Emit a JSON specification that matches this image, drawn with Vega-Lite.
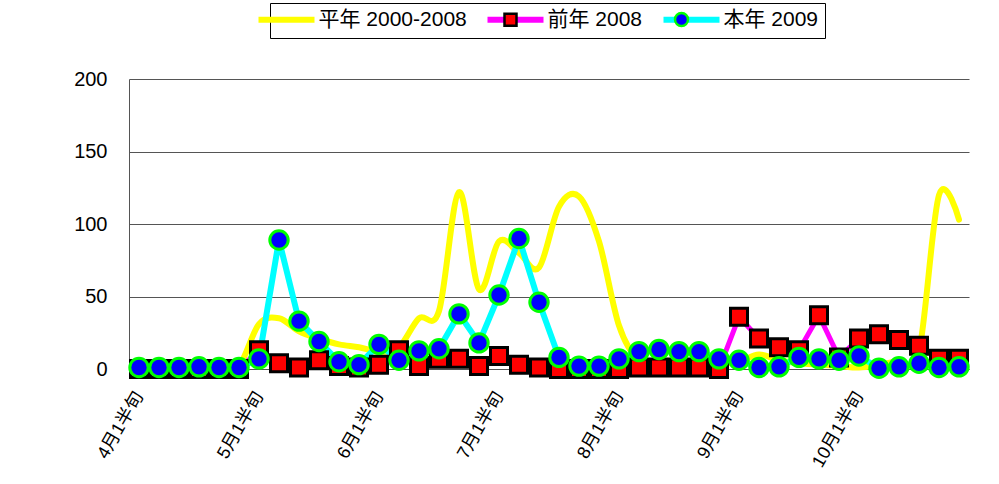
{
  "$schema": "https://vega.github.io/schema/vega-lite/v6.json",
  "width": 840,
  "height": 290,
  "autosize": {"type": "none"},
  "padding": {"left": 129, "top": 79, "right": 30, "bottom": 115},
  "background": "white",
  "config": {
    "view": {"stroke": null},
    "font": "Liberation Sans"
  },
  "data": {
    "values": [
      {"period": "4月1半旬", "series": "平年 2000-2008", "value": 0},
      {"period": "4月2半旬", "series": "平年 2000-2008", "value": 0},
      {"period": "4月3半旬", "series": "平年 2000-2008", "value": 0},
      {"period": "4月4半旬", "series": "平年 2000-2008", "value": 0},
      {"period": "4月5半旬", "series": "平年 2000-2008", "value": 0},
      {"period": "4月6半旬", "series": "平年 2000-2008", "value": 2},
      {"period": "5月1半旬", "series": "平年 2000-2008", "value": 31},
      {"period": "5月2半旬", "series": "平年 2000-2008", "value": 35},
      {"period": "5月3半旬", "series": "平年 2000-2008", "value": 26},
      {"period": "5月4半旬", "series": "平年 2000-2008", "value": 21},
      {"period": "5月5半旬", "series": "平年 2000-2008", "value": 17},
      {"period": "5月6半旬", "series": "平年 2000-2008", "value": 15},
      {"period": "6月1半旬", "series": "平年 2000-2008", "value": 12},
      {"period": "6月2半旬", "series": "平年 2000-2008", "value": 15},
      {"period": "6月3半旬", "series": "平年 2000-2008", "value": 35},
      {"period": "6月4半旬", "series": "平年 2000-2008", "value": 40},
      {"period": "6月5半旬", "series": "平年 2000-2008", "value": 122},
      {"period": "6月6半旬", "series": "平年 2000-2008", "value": 55},
      {"period": "7月1半旬", "series": "平年 2000-2008", "value": 88},
      {"period": "7月2半旬", "series": "平年 2000-2008", "value": 80},
      {"period": "7月3半旬", "series": "平年 2000-2008", "value": 70},
      {"period": "7月4半旬", "series": "平年 2000-2008", "value": 112},
      {"period": "7月5半旬", "series": "平年 2000-2008", "value": 119},
      {"period": "7月6半旬", "series": "平年 2000-2008", "value": 88},
      {"period": "8月1半旬", "series": "平年 2000-2008", "value": 30},
      {"period": "8月2半旬", "series": "平年 2000-2008", "value": 6},
      {"period": "8月3半旬", "series": "平年 2000-2008", "value": 6},
      {"period": "8月4半旬", "series": "平年 2000-2008", "value": 5},
      {"period": "8月5半旬", "series": "平年 2000-2008", "value": 5},
      {"period": "8月6半旬", "series": "平年 2000-2008", "value": 4},
      {"period": "9月1半旬", "series": "平年 2000-2008", "value": 5},
      {"period": "9月2半旬", "series": "平年 2000-2008", "value": 10},
      {"period": "9月3半旬", "series": "平年 2000-2008", "value": 6},
      {"period": "9月4半旬", "series": "平年 2000-2008", "value": 4},
      {"period": "9月5半旬", "series": "平年 2000-2008", "value": 3},
      {"period": "9月6半旬", "series": "平年 2000-2008", "value": 2},
      {"period": "10月1半旬", "series": "平年 2000-2008", "value": 1},
      {"period": "10月2半旬", "series": "平年 2000-2008", "value": 3},
      {"period": "10月3半旬", "series": "平年 2000-2008", "value": 6},
      {"period": "10月4半旬", "series": "平年 2000-2008", "value": 12},
      {"period": "10月5半旬", "series": "平年 2000-2008", "value": 120},
      {"period": "10月6半旬", "series": "平年 2000-2008", "value": 103},

      {"period": "4月1半旬", "series": "前年 2008", "value": 0},
      {"period": "4月2半旬", "series": "前年 2008", "value": 0},
      {"period": "4月3半旬", "series": "前年 2008", "value": 0},
      {"period": "4月4半旬", "series": "前年 2008", "value": 0},
      {"period": "4月5半旬", "series": "前年 2008", "value": 0},
      {"period": "4月6半旬", "series": "前年 2008", "value": 0},
      {"period": "5月1半旬", "series": "前年 2008", "value": 13},
      {"period": "5月2半旬", "series": "前年 2008", "value": 4},
      {"period": "5月3半旬", "series": "前年 2008", "value": 1},
      {"period": "5月4半旬", "series": "前年 2008", "value": 6},
      {"period": "5月5半旬", "series": "前年 2008", "value": 2},
      {"period": "5月6半旬", "series": "前年 2008", "value": 1},
      {"period": "6月1半旬", "series": "前年 2008", "value": 3},
      {"period": "6月2半旬", "series": "前年 2008", "value": 13},
      {"period": "6月3半旬", "series": "前年 2008", "value": 2},
      {"period": "6月4半旬", "series": "前年 2008", "value": 7},
      {"period": "6月5半旬", "series": "前年 2008", "value": 7},
      {"period": "6月6半旬", "series": "前年 2008", "value": 2},
      {"period": "7月1半旬", "series": "前年 2008", "value": 9},
      {"period": "7月2半旬", "series": "前年 2008", "value": 3},
      {"period": "7月3半旬", "series": "前年 2008", "value": 1},
      {"period": "7月4半旬", "series": "前年 2008", "value": 0},
      {"period": "7月5半旬", "series": "前年 2008", "value": 0},
      {"period": "7月6半旬", "series": "前年 2008", "value": 0},
      {"period": "8月1半旬", "series": "前年 2008", "value": 0},
      {"period": "8月2半旬", "series": "前年 2008", "value": 1},
      {"period": "8月3半旬", "series": "前年 2008", "value": 1},
      {"period": "8月4半旬", "series": "前年 2008", "value": 1},
      {"period": "8月5半旬", "series": "前年 2008", "value": 1},
      {"period": "8月6半旬", "series": "前年 2008", "value": 0},
      {"period": "9月1半旬", "series": "前年 2008", "value": 36},
      {"period": "9月2半旬", "series": "前年 2008", "value": 21},
      {"period": "9月3半旬", "series": "前年 2008", "value": 15},
      {"period": "9月4半旬", "series": "前年 2008", "value": 13},
      {"period": "9月5半旬", "series": "前年 2008", "value": 37},
      {"period": "9月6半旬", "series": "前年 2008", "value": 8},
      {"period": "10月1半旬", "series": "前年 2008", "value": 21},
      {"period": "10月2半旬", "series": "前年 2008", "value": 24},
      {"period": "10月3半旬", "series": "前年 2008", "value": 20},
      {"period": "10月4半旬", "series": "前年 2008", "value": 16},
      {"period": "10月5半旬", "series": "前年 2008", "value": 7},
      {"period": "10月6半旬", "series": "前年 2008", "value": 7},

      {"period": "4月1半旬", "series": "本年 2009", "value": 1},
      {"period": "4月2半旬", "series": "本年 2009", "value": 1},
      {"period": "4月3半旬", "series": "本年 2009", "value": 1},
      {"period": "4月4半旬", "series": "本年 2009", "value": 1.5},
      {"period": "4月5半旬", "series": "本年 2009", "value": 1},
      {"period": "4月6半旬", "series": "本年 2009", "value": 1},
      {"period": "5月1半旬", "series": "本年 2009", "value": 7},
      {"period": "5月2半旬", "series": "本年 2009", "value": 89},
      {"period": "5月3半旬", "series": "本年 2009", "value": 33},
      {"period": "5月4半旬", "series": "本年 2009", "value": 19},
      {"period": "5月5半旬", "series": "本年 2009", "value": 5},
      {"period": "5月6半旬", "series": "本年 2009", "value": 3},
      {"period": "6月1半旬", "series": "本年 2009", "value": 17},
      {"period": "6月2半旬", "series": "本年 2009", "value": 6},
      {"period": "6月3半旬", "series": "本年 2009", "value": 12.5},
      {"period": "6月4半旬", "series": "本年 2009", "value": 14},
      {"period": "6月5半旬", "series": "本年 2009", "value": 38},
      {"period": "6月6半旬", "series": "本年 2009", "value": 18},
      {"period": "7月1半旬", "series": "本年 2009", "value": 51},
      {"period": "7月2半旬", "series": "本年 2009", "value": 90},
      {"period": "7月3半旬", "series": "本年 2009", "value": 46},
      {"period": "7月4半旬", "series": "本年 2009", "value": 8},
      {"period": "7月5半旬", "series": "本年 2009", "value": 2},
      {"period": "7月6半旬", "series": "本年 2009", "value": 2},
      {"period": "8月1半旬", "series": "本年 2009", "value": 7},
      {"period": "8月2半旬", "series": "本年 2009", "value": 12},
      {"period": "8月3半旬", "series": "本年 2009", "value": 13.5},
      {"period": "8月4半旬", "series": "本年 2009", "value": 12},
      {"period": "8月5半旬", "series": "本年 2009", "value": 12},
      {"period": "8月6半旬", "series": "本年 2009", "value": 7},
      {"period": "9月1半旬", "series": "本年 2009", "value": 6},
      {"period": "9月2半旬", "series": "本年 2009", "value": 1},
      {"period": "9月3半旬", "series": "本年 2009", "value": 1.5},
      {"period": "9月4半旬", "series": "本年 2009", "value": 8},
      {"period": "9月5半旬", "series": "本年 2009", "value": 7},
      {"period": "9月6半旬", "series": "本年 2009", "value": 6},
      {"period": "10月1半旬", "series": "本年 2009", "value": 9},
      {"period": "10月2半旬", "series": "本年 2009", "value": 0.5},
      {"period": "10月3半旬", "series": "本年 2009", "value": 1.5},
      {"period": "10月4半旬", "series": "本年 2009", "value": 4},
      {"period": "10月5半旬", "series": "本年 2009", "value": 1},
      {"period": "10月6半旬", "series": "本年 2009", "value": 1.5}
    ]
  },
  "encoding": {
    "x": {
      "field": "period",
      "type": "ordinal",
      "sort": null,
      "scale": {"type": "point", "padding": 0.5},
      "axis": {
        "title": null,
        "values": ["4月1半旬", "5月1半旬", "6月1半旬", "7月1半旬", "8月1半旬", "9月1半旬", "10月1半旬"],
        "labelAngle": -60,
        "labelAlign": "right",
        "labelBaseline": "middle",
        "labelFont": "Liberation Sans, Noto Sans CJK JP",
        "labelFontSize": 18,
        "labelColor": "black",
        "labelPadding": 24,
        "labelOverlap": false,
        "labelBound": false,
        "ticks": false,
        "grid": false,
        "domain": true,
        "domainColor": "#555555",
        "domainWidth": 1
      }
    },
    "y": {
      "field": "value",
      "type": "quantitative",
      "scale": {"domain": [0, 200], "nice": false},
      "axis": {
        "title": null,
        "values": [0, 50, 100, 150, 200],
        "grid": true,
        "gridColor": "#555555",
        "gridWidth": 1,
        "gridOpacity": 1,
        "domain": true,
        "domainColor": "#555555",
        "ticks": false,
        "labelPadding": 22,
        "labelFont": "Liberation Sans",
        "labelFontSize": 20,
        "labelColor": "black"
      }
    }
  },
  "layer": [
    {
      "layer": [
        {
          "transform": [{"filter": "datum.series === '平年 2000-2008'"}],
          "mark": {"type": "line", "interpolate": "cardinal", "strokeWidth": 6, "strokeCap": "round", "strokeJoin": "round"},
          "encoding": {
            "stroke": {
              "field": "series",
              "type": "nominal",
              "scale": {"domain": ["平年 2000-2008", "前年 2008", "本年 2009"], "range": ["#ffff00", "#ff00ff", "#00ffff"]},
              "legend": {
                "title": null,
                "orient": "none",
                "legendX": 141,
                "legendY": -76,
                "direction": "horizontal",
                "symbolType": "M-4.667,0H4.667",
                "symbolSize": 144,
                "symbolStrokeWidth": 6,
                "labelOffset": 21.5,
                "columnPadding": 8,
                "padding": 6,
                "strokeColor": "black",
                "labelFont": "Liberation Sans, Noto Sans CJK JP",
                "labelFontSize": 21,
                "labelColor": "black",
                "labelLimit": 400
              }
            }
          }
        },
        {
          "transform": [{"filter": "datum.series === '前年 2008'"}],
          "mark": {"type": "line", "strokeWidth": 5, "strokeJoin": "round"},
          "encoding": {
            "stroke": {
              "field": "series",
              "type": "nominal",
              "scale": {"domain": ["平年 2000-2008", "前年 2008", "本年 2009"], "range": ["#ffff00", "#ff00ff", "#00ffff"]}
            }
          }
        },
        {
          "transform": [{"filter": "datum.series === '本年 2009'"}],
          "mark": {"type": "line", "strokeWidth": 6, "strokeJoin": "round"},
          "encoding": {
            "stroke": {
              "field": "series",
              "type": "nominal",
              "scale": {"domain": ["平年 2000-2008", "前年 2008", "本年 2009"], "range": ["#ffff00", "#ff00ff", "#00ffff"]}
            }
          }
        }
      ]
    },
    {
      "transform": [{"filter": "datum.series !== '平年 2000-2008'"}],
      "mark": {"type": "point", "filled": true, "size": 514, "strokeWidth": 3, "opacity": 1},
      "encoding": {
        "fill": {
          "field": "series",
          "type": "nominal",
          "scale": {"domain": ["平年 2000-2008", "前年 2008", "本年 2009"], "range": ["transparent", "#ff0000", "#0000ff"]},
          "legend": {
            "title": null,
            "orient": "none",
            "legendX": 141,
            "legendY": -76,
            "direction": "horizontal",
            "symbolSize": 256,
            "symbolStrokeWidth": 2.5,
            "labelOffset": 21.5,
            "columnPadding": 8,
            "padding": 6,
            "labelFont": "Liberation Sans, Noto Sans CJK JP",
            "labelFontSize": 21,
            "labelOpacity": 0,
            "labelLimit": 400
          }
        },
        "shape": {
          "field": "series",
          "type": "nominal",
          "scale": {
            "domain": ["平年 2000-2008", "前年 2008", "本年 2009"],
            "range": [
              "M-3.72,0M3.72,0",
              "M-3.72,0M3.72,0M-0.75,-0.75H0.75V0.75H-0.75Z",
              "M-3.72,0M3.72,0M-0.8125,0A0.8125,0.8125 0 1,0 0.8125,0A0.8125,0.8125 0 1,0 -0.8125,0Z"
            ]
          }
        },
        "stroke": {
          "field": "series",
          "type": "nominal",
          "scale": {"domain": ["平年 2000-2008", "前年 2008", "本年 2009"], "range": ["transparent", "#000000", "#00ff00"]}
        }
      }
    }
  ],
  "resolve": {"scale": {"stroke": "independent", "fill": "independent", "shape": "independent"}}
}
